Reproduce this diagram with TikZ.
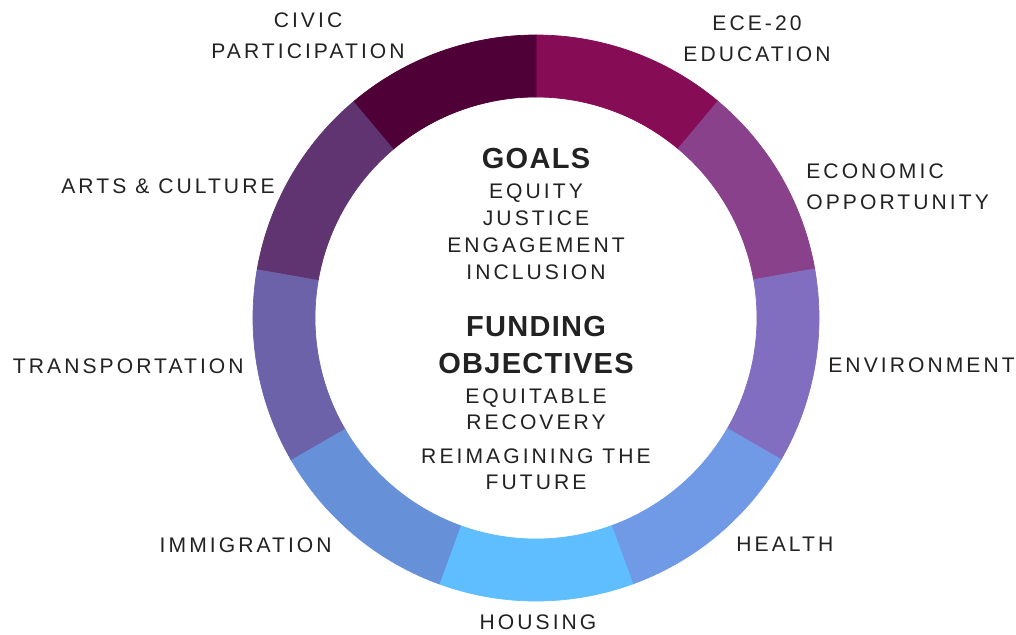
\documentclass[tikz,border=0pt]{standalone}
\usepackage{fontspec}
\setmainfont{Liberation Sans}
\newfontfamily\capsfont[LetterSpace=14.5]{Liberation Sans}
\newfontfamily\headfont[LetterSpace=4.5]{Liberation Sans}
\usepackage{xcolor}
\usepackage{tikz}
\usetikzlibrary{positioning}

\definecolor{ink}{HTML}{222222}
\definecolor{civic}{HTML}{4E0037}
\definecolor{ece}{HTML}{850C55}
\definecolor{econ}{HTML}{8A418C}
\definecolor{envir}{HTML}{826EC0}
\definecolor{health}{HTML}{7099E6}
\definecolor{housing}{HTML}{5FBEFF}
\definecolor{immig}{HTML}{6690D8}
\definecolor{transp}{HTML}{6B62AA}
\definecolor{arts}{HTML}{5F3470}

\begin{document}
\begin{tikzpicture}[x=0.2mm,y=0.2mm,node distance=5.4mm,
                    seg/.style={line width=0.4pt},
                    tag/.style={inner sep=0pt,text=ink,font=\capsfont\fontsize{12pt}{17.6pt}\selectfont},
                    item/.style={tag,text height=8.6pt,text depth=0pt},
                    head/.style={inner sep=0pt,text=ink,text height=11.8pt,text depth=0pt,
                                 font=\headfont\bfseries\fontsize{16.5pt}{19pt}\selectfont}]

  \useasboundingbox[fill=white] (-536,-316) rectangle (480,318);

  % ring, nine parts of 40 degrees
  \filldraw[seg,ece]     (50:283)  arc[start angle=50,  end angle=90,  radius=283] -- (90:221)  arc[start angle=90,  end angle=50,  radius=221] -- cycle;
  \filldraw[seg,econ]    (10:283)  arc[start angle=10,  end angle=50,  radius=283] -- (50:221)  arc[start angle=50,  end angle=10,  radius=221] -- cycle;
  \filldraw[seg,envir]   (-30:283) arc[start angle=-30, end angle=10,  radius=283] -- (10:221)  arc[start angle=10,  end angle=-30, radius=221] -- cycle;
  \filldraw[seg,health]  (-70:283) arc[start angle=-70, end angle=-30, radius=283] -- (-30:221) arc[start angle=-30, end angle=-70, radius=221] -- cycle;
  \filldraw[seg,housing] (-110:283) arc[start angle=-110, end angle=-70, radius=283] -- (-70:221) arc[start angle=-70, end angle=-110, radius=221] -- cycle;
  \filldraw[seg,immig]   (210:283) arc[start angle=210, end angle=250, radius=283] -- (250:221) arc[start angle=250, end angle=210, radius=221] -- cycle;
  \filldraw[seg,transp]  (170:283) arc[start angle=170, end angle=210, radius=283] -- (210:221) arc[start angle=210, end angle=170, radius=221] -- cycle;
  \filldraw[seg,arts]    (130:283) arc[start angle=130, end angle=170, radius=283] -- (170:221) arc[start angle=170, end angle=130, radius=221] -- cycle;
  \filldraw[seg,civic]   (90:283)  arc[start angle=90,  end angle=130, radius=283] -- (130:221) arc[start angle=130, end angle=90,  radius=221] -- cycle;

  % labels round the ring
  \node[tag,align=center] (civiclbl) at (-228,282) {CIVIC\\PARTICIPATION};
  \node[tag,align=center] (ecelbl) at (221,279) {ECE-20\\EDUCATION};
  \node[tag,align=left,anchor=west] (econlbl) at (270,131) {ECONOMIC\\OPPORTUNITY};
  \node[tag,anchor=west] (envlbl) at (292,-47) {ENVIRONMENT};
  \node[tag,anchor=west] (healthlbl) at (200,-226) {HEALTH};
  \node[tag] (housinglbl) at (2,-304) {HOUSING};
  \node[tag,anchor=east] (immiglbl) at (-204,-227) {IMMIGRATION};
  \node[tag,anchor=east] (transplbl) at (-292,-48) {TRANSPORTATION};
  \node[tag,anchor=east] (artslbl) at (-261,132) {ARTS \& CULTURE};

  % centre
  \node[head] (goals) at (0,160) {GOALS};
  \node[item] (equity) at (0,127) {EQUITY};
  \node[item] (justice) [below of=equity] {JUSTICE};
  \node[item] (engage) [below of=justice] {ENGAGEMENT};
  \node[item] (inclusion) [below of=engage] {INCLUSION};

  \node[head] (funding) at (0,-8) {FUNDING};
  \node[head] (objectives) [below of=funding,node distance=7.4mm] {OBJECTIVES};
  \node[item] (equitable) at (0,-78) {EQUITABLE};
  \node[item] (recovery) [below of=equitable,node distance=5.2mm] {RECOVERY};
  \node[item] (reimagine) at (0,-138) {REIMAGINING THE};
  \node[item] (future) [below of=reimagine,node distance=5.2mm] {FUTURE};
\end{tikzpicture}
\end{document}
